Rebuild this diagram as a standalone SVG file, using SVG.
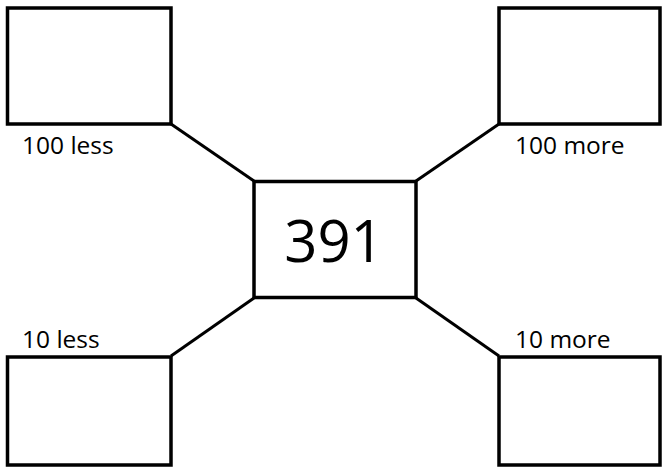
<svg xmlns="http://www.w3.org/2000/svg" width="662" height="473" viewBox="0 0 662 473">
<style>
.box{fill:#fff;stroke:#000;stroke-width:3.5}
.conn{stroke:#000;stroke-width:3;fill:none}
.lbl{font-family:"Open Sans","Noto Sans",sans-serif;font-size:24.5px;fill:#000}
.num{font-family:"Open Sans","Noto Sans",sans-serif;font-size:58px;fill:#000}
</style>
<rect width="662" height="473" fill="#fff"/>
<g id="connectors">
<line class="conn" x1="171" y1="124" x2="254" y2="181"/>
<line class="conn" x1="499" y1="124" x2="416" y2="181"/>
<line class="conn" x1="254" y1="298" x2="171" y2="356"/>
<line class="conn" x1="416" y1="298" x2="499" y2="356"/>
</g>
<g id="center">
<rect class="box" x="254" y="181.5" width="162" height="116"/>
<text class="num" x="334" y="262" text-anchor="middle">391</text>
</g>
<g id="hundred-less">
<rect class="box" x="7.5" y="8" width="163.5" height="116"/>
<text class="lbl" x="22" y="154">100 less</text>
</g>
<g id="hundred-more">
<rect class="box" x="499" y="8" width="161" height="116"/>
<text class="lbl" x="515" y="154">100 more</text>
</g>
<g id="ten-less">
<rect class="box" x="7.5" y="357" width="163.5" height="108"/>
<text class="lbl" x="22" y="348">10 less</text>
</g>
<g id="ten-more">
<rect class="box" x="499" y="357" width="161" height="108"/>
<text class="lbl" x="515" y="348">10 more</text>
</g>
</svg>
